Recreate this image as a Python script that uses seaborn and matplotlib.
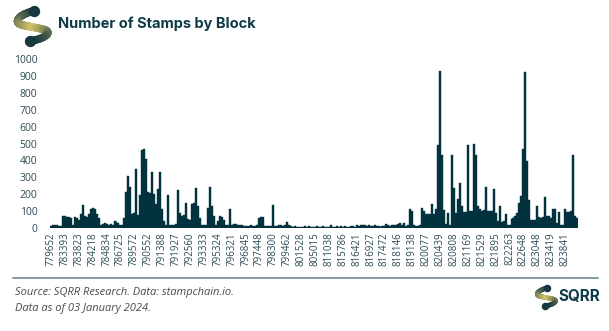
import numpy as np
import pandas as pd
import matplotlib
matplotlib.use("Agg")
import matplotlib.pyplot as plt
from matplotlib.collections import LineCollection
import seaborn as sns

# ---------------- data ----------------
tick_labels = ["779652", "783393", "783823", "784218", "784834", "786725", "789572",
               "790552", "791388", "791927", "792560", "793333", "795324", "796321",
               "796845", "797448", "798300", "799462", "801528", "805015", "811038",
               "815786", "816421", "816927", "817472", "818146", "819138", "820077",
               "820439", "820808", "821169", "821529", "821895", "822263", "822648",
               "823048", "823419", "823841"]

stamps = [
    12, 18, 20, 15, 12, 14, 70,
    72, 68, 66, 60, 20, 65, 62,
    50, 85, 136, 70, 65, 80, 115,
    120, 110, 85, 60, 20, 25, 30,
    25, 20, 25, 15, 40, 35, 30,
    15, 15, 60, 215, 310, 240, 85,
    90, 350, 75, 195, 460, 465, 410,
    215, 205, 330, 200, 140, 230, 330,
    110, 40, 20, 195, 15, 20, 20,
    25, 225, 90, 70, 75, 150, 55,
    50, 140, 145, 236, 130, 60, 20,
    15, 20, 120, 240, 130, 70, 20,
    40, 70, 65, 45, 20, 15, 110,
    20, 25, 22, 18, 20, 15, 12,
    10, 12, 10, 15, 12, 10, 15,
    60, 68, 65, 10, 10, 12, 10,
    134, 12, 10, 15, 20, 12, 15,
    35, 20, 10, 8, 10, 8, 6,
    8, 6, 10, 8, 12, 8, 6,
    8, 10, 6, 8, 10, 8, 6,
    8, 20, 8, 6, 10, 8, 12,
    8, 10, 6, 8, 12, 10, 8,
    15, 12, 18, 20, 15, 12, 18,
    12, 10, 15, 12, 10, 8, 12,
    10, 25, 15, 12, 20, 18, 15,
    25, 28, 15, 30, 12, 15, 110,
    100, 15, 12, 10, 15, 120, 100,
    80, 80, 85, 140, 80, 110, 491,
    930, 433, 105, 25, 90, 20, 433,
    236, 90, 170, 267, 130, 95, 95,
    491, 100, 100, 496, 433, 130, 110,
    100, 105, 240, 100, 100, 100, 230,
    90, 40, 130, 35, 40, 80, 20,
    15, 55, 60, 70, 90, 150, 190,
    470, 925, 395, 165, 50, 45, 50,
    130, 65, 60, 65, 185, 70, 70,
    60, 110, 110, 30, 95, 20, 20,
    110, 95, 95, 100, 433, 70, 60,
]
labels_every = 7

y_ticks = [0, 100, 200, 300, 400, 500, 600, 700, 800, 900, 1000]

title = "Number of Stamps by Block"
source_lines = ["Source: SQRR Research. Data: stampchain.io.",
                "Data as of 03 January 2024."]

# ---------------- style ----------------
BAR = "#02323e"
TXT = "#0d3a47"
TICK = "#2b4a55"

sns.set_theme(style="white")
plt.rcParams["font.family"] = ["Open Sans", "DejaVu Sans"]

W, H = 609, 331
fig = plt.figure(figsize=(W / 100, H / 100), dpi=100)
fig.patch.set_facecolor("white")

L, R, T, B = 50, 578, 59, 228
ax = fig.add_axes([L / W, 1 - B / H, (R - L) / W, (B - T) / H])

df = pd.DataFrame({"pos": np.arange(len(stamps)), "stamps": stamps})
sns.barplot(data=df, x="pos", y="stamps", color=BAR, width=1.0,
            linewidth=0.3, edgecolor=BAR, errorbar=None, ax=ax,
            saturation=1)

ax.set_xlim(-0.5, len(stamps) - 0.5)
ax.set_ylim(0, 1000)
ax.set_yticks(y_ticks)
ax.set_yticklabels([str(v) for v in y_ticks], fontsize=7.5, color=TICK)
tick_pos = [i * labels_every for i in range(len(tick_labels))]
ax.set_xticks(tick_pos)
ax.set_xticklabels(tick_labels, rotation=90, fontsize=7, color=TICK)
ax.tick_params(axis="y", length=0, pad=9)
ax.tick_params(axis="x", length=0, pad=3)
ax.set_xlabel("")
ax.set_ylabel("")
for s in ax.spines.values():
    s.set_visible(False)
ax.grid(False)

# ---------------- overlay (title, footer, logos) ----------------
ov = fig.add_axes([0, 0, 1, 1], zorder=-1)
ov.set_xlim(0, W)
ov.set_ylim(H, 0)
ov.axis("off")
ov.patch.set_alpha(0)


def draw_logo(axo, cx, cy, s, lw):
    def bez(p0, p1, p2, p3, n=40):
        t = np.linspace(0, 1, n)[:, None]
        p0, p1, p2, p3 = map(np.array, (p0, p1, p2, p3))
        return ((1 - t) ** 3) * p0 + 3 * ((1 - t) ** 2) * t * p1 + 3 * (1 - t) * t ** 2 * p2 + t ** 3 * p3
    a = bez((2, -15), (-12, -12), (-20, -4), (-10, -1))
    b = bez((-10, -1), (-3, 0.5), (6, 2), (12, 3.5))
    c = bez((12, 3.5), (21, 6), (13, 13), (-2, 15))
    pts = np.vstack([a, b, c]) * s + np.array([cx, cy])
    segs = np.stack([pts[:-1], pts[1:]], axis=1)
    t = np.linspace(0, 1, len(segs))
    w = 1 - np.abs(t - 0.5) * 2
    dark = np.array(matplotlib.colors.to_rgb("#163840"))
    gold = np.array(matplotlib.colors.to_rgb("#d2c46a"))
    cols = dark[None, :] * (1 - w[:, None]) + gold[None, :] * w[:, None]
    lc = LineCollection(segs, colors=cols, linewidths=lw, capstyle="round")
    axo.add_collection(lc)
    axo.scatter([pts[0, 0], pts[-1, 0]], [pts[0, 1], pts[-1, 1]],
                s=(lw * 1.3) ** 2, color="#163840", zorder=3)


draw_logo(ov, 32, 26, 1.0, 5.5)
fig.text(58 / W, 1 - 24 / H, title, fontsize=10.5, fontweight="bold",
         color=TXT, va="center", ha="left", family=["Inter", "DejaVu Sans"])

ov.plot([13, 598], [278, 278], color="#6d8a92", lw=1.2)
fig.text(15 / W, 1 - 292 / H, source_lines[0], fontsize=8, style="italic",
         color="#4a4a4a", va="center", ha="left")
fig.text(15 / W, 1 - 308 / H, source_lines[1], fontsize=8, style="italic",
         color="#4a4a4a", va="center", ha="left")

draw_logo(ov, 546, 297, 0.6, 3.4)
fig.text(558 / W, 1 - 297 / H, "SQRR", fontsize=11, fontweight="bold",
         color=TXT, va="center", ha="left", family=["Inter", "DejaVu Sans"])

fig.savefig("out.png", dpi=100)
